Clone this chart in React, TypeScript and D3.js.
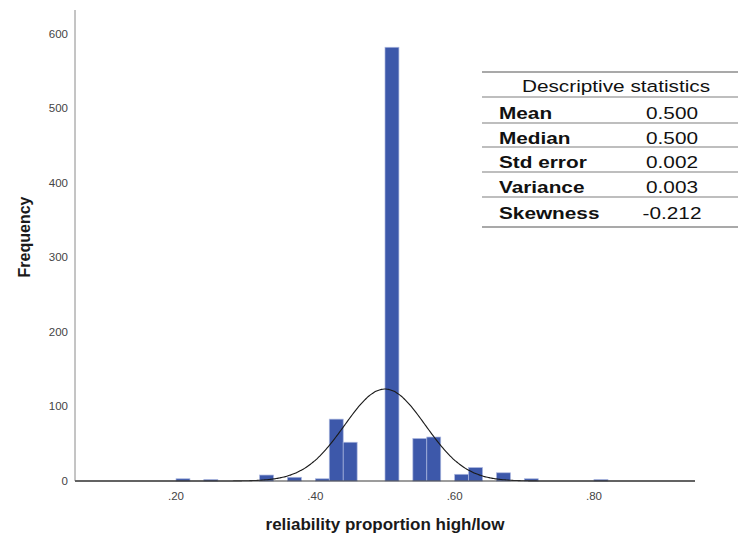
import { useEffect, useRef } from "react";
import * as d3 from "d3";

const W = 738;
const H = 536;

// histogram bins (lower edge, width 0.02) and counts
const binStarts = [0.2, 0.24, 0.32, 0.36, 0.4, 0.42, 0.44, 0.5, 0.54, 0.56, 0.6, 0.62, 0.66, 0.7, 0.8];
const counts = [3, 2, 8, 5, 3, 83, 52, 582, 57, 59, 9, 18, 11, 3, 2];
const binWidth = 0.02;

const xTicks = [0.2, 0.4, 0.6, 0.8];
const yTicks = [0, 100, 200, 300, 400, 500, 600];

// normal curve overlay parameters
const curveMean = 0.5;
const curveSd = 0.058;

const statLabels = ["Mean", "Median", "Std error", "Variance", "Skewness"];
const statValues = ["0.500", "0.500", "0.002", "0.003", "-0.212"];

const FONT = "Liberation Sans, Arial, Helvetica, sans-serif";

export default function App() {
  const ref = useRef<SVGSVGElement | null>(null);

  useEffect(() => {
    if (!ref.current) return;
    const svg = d3.select(ref.current);
    svg.selectAll("*").remove();

    const x = d3.scaleLinear().domain([0.055, 0.945]).range([75, 695]);
    const y = d3.scaleLinear().domain([0, 632]).range([481, 10]);

    // bars
    svg.append("g").selectAll("rect").data(binStarts).join("rect")
      .attr("x", d => x(d))
      .attr("width", d => x(d + binWidth) - x(d))
      .attr("y", (_, i) => y(counts[i]))
      .attr("height", (_, i) => y(0) - y(counts[i]))
      .attr("fill", "#3d58aa")
      .attr("stroke", "#aab6de")
      .attr("stroke-width", 0.7);

    // normal curve
    const total = d3.sum(counts);
    const dens = (v: number) =>
      total * binWidth * Math.exp(-((v - curveMean) ** 2) / (2 * curveSd * curveSd)) / (curveSd * Math.sqrt(2 * Math.PI));
    const pts = d3.range(0.055, 0.9451, 0.002);
    svg.append("path").datum(pts)
      .attr("fill", "none").attr("stroke", "#1a1a1a").attr("stroke-width", 1.1)
      .attr("d", d3.line<number>().x(d => x(d)).y(d => y(dens(d))).curve(d3.curveBasis));

    // axes lines
    svg.append("line").attr("x1", 75).attr("x2", 75).attr("y1", y(632)).attr("y2", y(0))
      .attr("stroke", "#8a8a8a").attr("stroke-width", 1);
    svg.append("line").attr("x1", 75).attr("x2", 695).attr("y1", y(0)).attr("y2", y(0))
      .attr("stroke", "#3a3a3a").attr("stroke-width", 1.2);

    // tick labels
    svg.append("g").selectAll("text").data(yTicks).join("text")
      .attr("x", 68).attr("y", d => y(d) + 4)
      .attr("text-anchor", "end").attr("font-family", FONT).attr("font-size", 11.5)
      .attr("fill", "#444").text(d => d);
    svg.append("g").selectAll("text").data(xTicks).join("text")
      .attr("x", d => x(d)).attr("y", 500)
      .attr("text-anchor", "middle").attr("font-family", FONT).attr("font-size", 11.5)
      .attr("fill", "#444").text(d => d3.format(".2f")(d).replace(/^0/, ""));

    // axis titles
    svg.append("text").attr("x", 385).attr("y", 530).attr("text-anchor", "middle")
      .attr("font-family", FONT).attr("font-size", 17).attr("font-weight", "bold")
      .attr("fill", "#1a1a1a").text("reliability proportion high/low");
    svg.append("text").attr("transform", "translate(30,237) rotate(-90)").attr("text-anchor", "middle")
      .attr("font-family", FONT).attr("font-size", 16).attr("font-weight", "bold")
      .attr("fill", "#1a1a1a").text("Frequency");

    // stats table
    const t = svg.append("g");
    const lineYs = [72, 97, 123, 147, 172, 197, 227];
    lineYs.forEach((ly, i) => {
      t.append("line").attr("x1", 482).attr("x2", 738).attr("y1", ly).attr("y2", ly)
        .attr("stroke", i === 0 || i === lineYs.length - 1 ? "#8c8c8c" : "#a8a8a8")
        .attr("stroke-width", i === 0 || i === lineYs.length - 1 ? 1.5 : 1.3);
    });
    const sx = 1.26;
    t.append("text").attr("transform", `translate(616,92) scale(${sx},1)`).attr("text-anchor", "middle")
      .attr("font-family", FONT).attr("font-size", 16.5).attr("fill", "#111").text("Descriptive statistics");
    const rowBase = [118.5, 143.5, 168, 192.5, 218.5];
    statLabels.forEach((s, i) => {
      t.append("text").attr("transform", `translate(499,${rowBase[i]}) scale(${sx},1)`)
        .attr("font-family", FONT).attr("font-size", 16.5).attr("font-weight", "bold")
        .attr("fill", "#111").text(s);
      t.append("text").attr("transform", `translate(672,${rowBase[i]}) scale(${sx},1)`).attr("text-anchor", "middle")
        .attr("font-family", FONT).attr("font-size", 16.5).attr("fill", "#111").text(statValues[i]);
    });
  }, []);

  return (
    <svg ref={ref} width={W} height={H}
      style={{ position: "absolute", left: 0, top: 0, background: "#fff", display: "block" }} />
  );
}
